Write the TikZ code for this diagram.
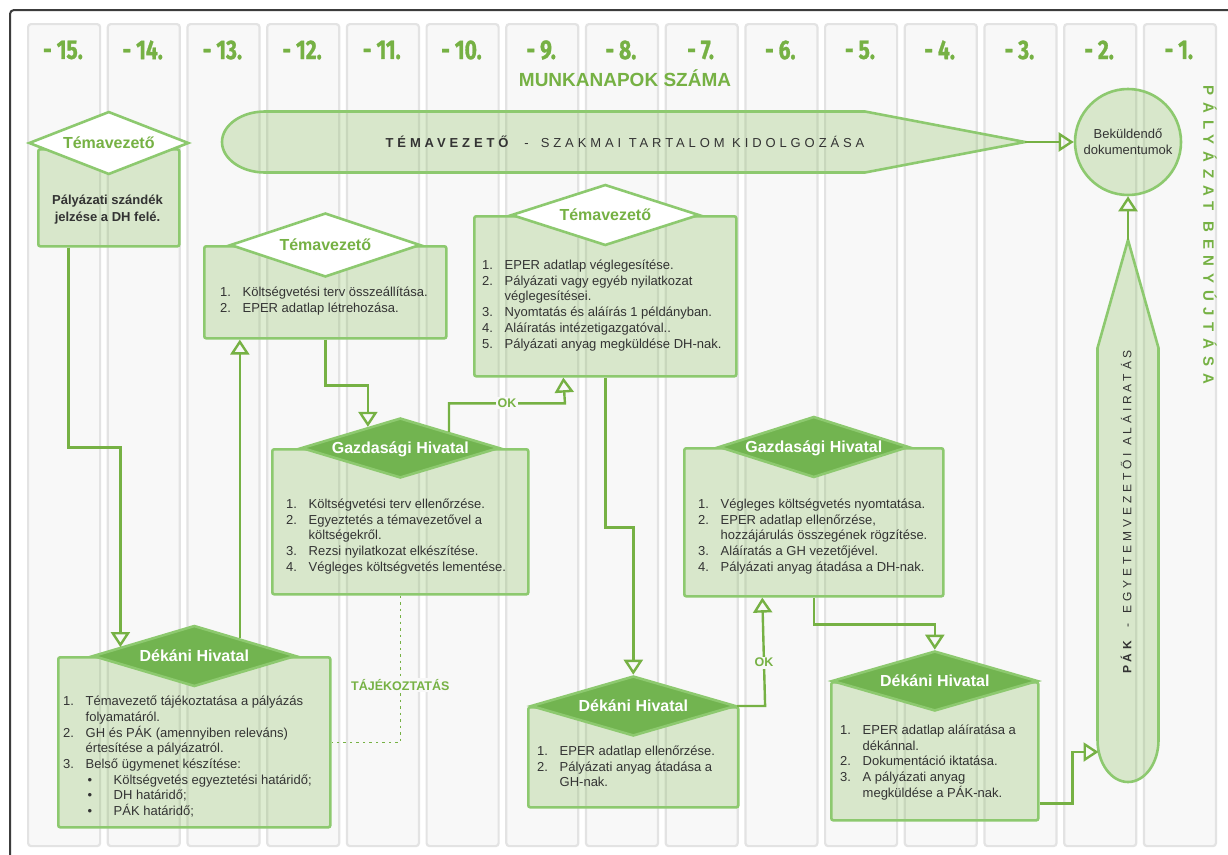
\documentclass[tikz,border=0pt]{standalone}
\usepackage{fontspec}
\setmainfont{Liberation Sans}
\newfontfamily\dayfont[FakeStretch=0.78,FakeBold=1]{Fira Sans}
\newfontfamily\bannerfont[LetterSpace=30]{Liberation Sans}
\newfontfamily\vertfont[LetterSpace=45]{Liberation Sans}
\newfontfamily\pakfont[LetterSpace=32]{Liberation Sans}
\usetikzlibrary{shapes.geometric,arrows.meta,calc}

\definecolor{grn}{HTML}{76B144}
\definecolor{bord}{HTML}{8DC96F}
\definecolor{dgrn}{HTML}{72B450}
\definecolor{lfill}{HTML}{7AB648}
\definecolor{txt}{HTML}{333333}
\definecolor{colbg}{HTML}{F8F8F8}
\definecolor{colbd}{HTML}{E3E3E3}
\definecolor{framec}{HTML}{3C3C3C}

\newcommand\nm[1]{\makebox[22.5pt][l]{#1}}
\newcommand\fs[2]{\fontsize{#1}{#2}\selectfont}

\tikzset{
  col/.style={draw=colbd, line width=2.2pt, fill=colbg, rounded corners=3pt, inner sep=0pt, anchor=north west},
  daylab/.style={text=grn, font=\dayfont\bfseries\fs{27}{29}},
  box/.style={draw=bord, line width=2.6pt, fill=lfill, fill opacity=0.25, rounded corners=2pt, inner sep=0pt, anchor=north west},
  dia/.style={shape=diamond, draw=bord, line width=2.6pt, inner sep=0pt, font=\bfseries\fs{16}{18}, text height=11.5pt, text depth=0pt},
  wdia/.style={dia, fill=white, text=grn},
  gdia/.style={dia, fill=dgrn, text=white},
  lst/.style={anchor=base west, inner sep=0pt, text=txt, font=\fs{13}{15.7}},
  conn/.style={draw=grn, line width=2.4pt, -{Triangle[open,length=15pt,width=19pt]}},
  lbl/.style={text=grn, font=\bfseries\fs{12.5}{14}, fill=colbg, inner sep=1.5pt},
  shapefill/.style={draw=bord, line width=2.6pt, fill=lfill, fill opacity=0.25},
  dotconn/.style={draw=grn, line width=1.6pt, dash pattern=on 2.5pt off 4pt}
}

\begin{document}
\begin{tikzpicture}[x=1pt, y=-1pt]
\useasboundingbox (0,0) rectangle (1228,854);
\clip (0,0) rectangle (1228,854);
\fill[white] (0,0) rectangle (1228,854);
\draw[framec, line width=2pt, rounded corners=4pt] (10,10) rectangle (1250,875);

% columns
\foreach \i in {0,...,14}{
  \pgfmathsetmacro\cx{27+79.7*\i}
  \pgfmathtruncatemacro\n{15-\i}
  \node[col, minimum width=72pt, minimum height=822pt] (col\i) at (\cx,23) {};
  \node[daylab] (day\i) at (\cx+36,50) {- \n.};
}

\node[text=grn, font=\bfseries\fs{19}{21}] (munk) at (625,78) {MUNKANAPOK SZÁMA};
\node[text=grn, font=\vertfont\bfseries\fs{15}{17}, rotate=-90] (benyujt) at (1210,235) {PÁLYÁZAT BENYÚJTÁSA};

% banner
\path[shapefill] (265,111.5) -- (865,111.5) -- (1025,142) -- (865,172.5) -- (265,172.5)
  .. controls (241.3,172.5) and (222,158.8) .. (222,142)
  .. controls (222,125.2) and (241.3,111.5) .. (265,111.5) -- cycle;
\coordinate (bt) at (1025,142);
\node[text=txt, font=\bannerfont\fs{13}{15}] (bannertext) at (625,142)
  {\textbf{TÉMAVEZETŐ}\hspace{12pt}-\hspace{12pt}SZAKMAI TARTALOM KIDOLGOZÁSA};

% PAK shape
\path[shapefill] (1128,240) -- (1158.5,348) -- (1158.5,740)
  .. controls (1158.5,763.2) and (1144.8,782) .. (1128,782)
  .. controls (1111.2,782) and (1097.5,763.2) .. (1097.5,740) -- (1097.5,348) -- cycle;
\coordinate (pt) at (1128,240);
\coordinate (pin) at (1098.5,752);
\node[text=txt, font=\pakfont\fs{12}{14}, rotate=90] (paktext) at (1126,512)
  {\textbf{PÁK}\hspace{10pt}-\hspace{10pt}EGYETEMVEZETŐI ALÁIRATÁS};

% circle
\node[circle, draw=bord, line width=2.6pt, fill=lfill, fill opacity=0.25, text opacity=1,
  minimum size=106pt, inner sep=0pt, text=txt, font=\fs{13}{16.5}, align=center] (circ) at (1128,142)
  {Beküldendő\\dokumentumok};

% boxes
\node[box, minimum width=141pt, minimum height=97pt] (A) at (37,148) {};
\node[box, minimum width=242pt, minimum height=92pt] (B) at (203,245) {};
\node[box, minimum width=262pt, minimum height=160pt] (E) at (473,215) {};
\node[box, minimum width=256pt, minimum height=145pt] (D) at (271,448) {};
\node[box, minimum width=259pt, minimum height=148pt] (F) at (683,447) {};
\node[box, minimum width=272pt, minimum height=170pt] (G) at (57,656) {};
\node[box, minimum width=210pt, minimum height=100pt] (H) at (527,706) {};
\node[box, minimum width=207pt, minimum height=138pt] (I) at (830,681) {};

% diamonds
\node[wdia, minimum width=160pt, minimum height=63pt] (A-d) at ([yshift=5pt]A.north) {\makebox[0pt]{Témavezető}};
\node[wdia, minimum width=190pt, minimum height=64pt] (B-d) at (B.north) {\makebox[0pt]{Témavezető}};
\node[wdia, minimum width=188pt, minimum height=61pt] (E-d) at (E.north) {\makebox[0pt]{Témavezető}};
\node[gdia, minimum width=198pt, minimum height=60pt] (D-d) at (D.north) {\makebox[0pt]{Gazdasági Hivatal}};
\node[gdia, minimum width=190pt, minimum height=61pt] (F-d) at (F.north) {\makebox[0pt]{Gazdasági Hivatal}};
\node[gdia, minimum width=203pt, minimum height=61pt] (G-d) at (G.north) {\makebox[0pt]{Dékáni Hivatal}};
\node[gdia, minimum width=205pt, minimum height=60pt] (H-d) at (H.north) {\makebox[0pt]{Dékáni Hivatal}};
\node[gdia, minimum width=206pt, minimum height=60pt] (I-d) at (I.north) {\makebox[0pt]{Dékáni Hivatal}};

% texts
\node[anchor=base, inner sep=0pt, text=txt, font=\bfseries\fs{13}{16.5}] (A-t) at (107.5,204.5)
  {\begin{tabular}[t]{@{}c@{}}Pályázati szándék\\jelzése a DH felé.\end{tabular}};
\node[lst] (B-t) at (220,296.5) {\begin{tabular}[t]{@{}l@{}}
  \nm{1.}Költségvetési terv összeállítása.\\
  \nm{2.}EPER adatlap létrehozása.\end{tabular}};
\node[lst] (E-t) at (482,269.5) {\begin{tabular}[t]{@{}l@{}}
  \nm{1.}EPER adatlap véglegesítése.\\
  \nm{2.}Pályázati vagy egyéb nyilatkozat\\
  \nm{}véglegesítései.\\
  \nm{3.}Nyomtatás és aláírás 1 példányban.\\
  \nm{4.}Aláíratás intézetigazgatóval..\\
  \nm{5.}Pályázati anyag megküldése DH-nak.\end{tabular}};
\node[lst] (D-t) at (286,508.5) {\begin{tabular}[t]{@{}l@{}}
  \nm{1.}Költségvetési terv ellenőrzése.\\
  \nm{2.}Egyeztetés a témavezetővel a\\
  \nm{}költségekről.\\
  \nm{3.}Rezsi nyilatkozat elkészítése.\\
  \nm{4.}Végleges költségvetés lementése.\end{tabular}};
\node[lst] (F-t) at (698,508.5) {\begin{tabular}[t]{@{}l@{}}
  \nm{1.}Végleges költségvetés nyomtatása.\\
  \nm{2.}EPER adatlap ellenőrzése,\\
  \nm{}hozzájárulás összegének rögzítése.\\
  \nm{3.}Aláíratás a GH vezetőjével.\\
  \nm{4.}Pályázati anyag átadása a DH-nak.\end{tabular}};
\node[lst] (G-t) at (63,705.5) {\begin{tabular}[t]{@{}l@{}}
  \nm{1.}Témavezető tájékoztatása a pályázás\\
  \nm{}folyamatáról.\\
  \nm{2.}GH és PÁK (amennyiben releváns)\\
  \nm{}értesítése a pályázatról.\\
  \nm{3.}Belső ügymenet készítése:\\
  \nm{}\makebox[28pt][l]{\hspace{2pt}\textbullet}Költségvetés egyeztetési határidő;\\
  \nm{}\makebox[28pt][l]{\hspace{2pt}\textbullet}DH határidő;\\
  \nm{}\makebox[28pt][l]{\hspace{2pt}\textbullet}PÁK határidő;\end{tabular}};
\node[lst] (H-t) at (537,755.5) {\begin{tabular}[t]{@{}l@{}}
  \nm{1.}EPER adatlap ellenőrzése.\\
  \nm{2.}Pályázati anyag átadása a\\
  \nm{}GH-nak.\end{tabular}};
\node[lst] (I-t) at (840,734.5) {\begin{tabular}[t]{@{}l@{}}
  \nm{1.}EPER adatlap aláíratása a\\
  \nm{}dékánnal.\\
  \nm{2.}Dokumentáció iktatása.\\
  \nm{3.}A pályázati anyag\\
  \nm{}megküldése a PÁK-nak.\end{tabular}};

% connectors
\coordinate (g1) at ($(G-d.north)!0.719!(G-d.west)$);
\coordinate (g2) at ($(G-d.north)!0.443!(G-d.east)$);
\coordinate (d3) at ($(D-d.north)!0.323!(D-d.west)$);
\coordinate (d4) at ($(D-d.north)!0.485!(D-d.east)$);

\draw[conn] ([xshift=-40.5pt]A.south) -- ++(0,200) -| (g1);
\draw[conn] (g2) -- (g2 |- B.south);
\draw[conn] (B.south) -- ++(0,46) -| (d3);
\draw[conn] (d4) -- ++(0,-28.5) -- node[lbl]{OK} ++(116,0) -- ([xshift=-42pt]E.south);
\draw[conn] (E.south) -- ++(0,150) -| (H-d.north);
\draw[dotconn] (D.south) -- node[lbl, pos=0.61]{TÁJÉKOZTATÁS} (D.south |- G.east) -- (G.east);
\draw[conn] (F.south) -- ++(0,27) -| (I-d.north);
\draw[conn] (H-d.east) -- ++(28,0) -- node[lbl, pos=0.4]{OK} ([xshift=-51.5pt]F.south);
\draw[conn] ([yshift=18pt]I.south east) -- ++(33,0) |- (pin);
\draw[conn] (bt) -- (circ.west);
\draw[conn] (pt) -- (circ.south);
\end{tikzpicture}
\end{document}
